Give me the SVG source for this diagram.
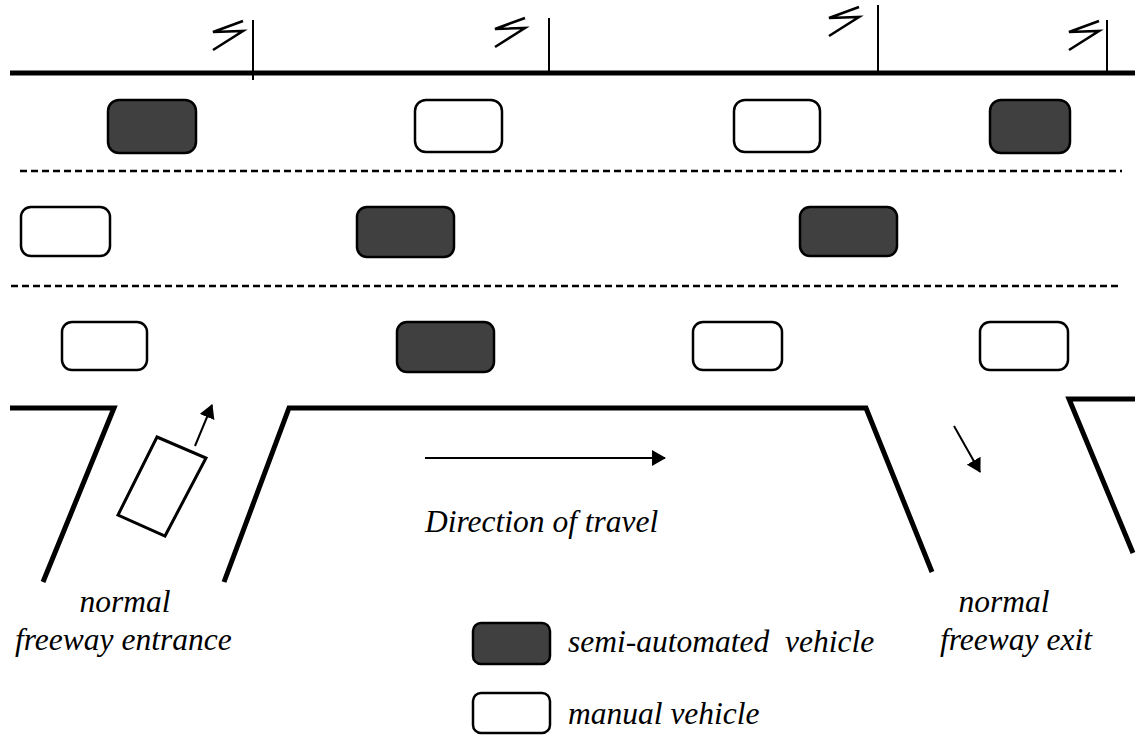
<svg xmlns="http://www.w3.org/2000/svg" width="1138" height="736" viewBox="0 0 1138 736">
<defs>
<style>
.road{fill:none;stroke:#000;stroke-width:5;stroke-linejoin:miter;stroke-linecap:butt}
.dash{fill:none;stroke:#000;stroke-width:2.5;stroke-dasharray:7 4}
.pole{stroke:#000;stroke-width:2}
.bolt{fill:none;stroke:#000;stroke-width:2.6;stroke-linejoin:miter}
.semi{fill:#404040;stroke:#000;stroke-width:2.5}
.manual{fill:#fff;stroke:#000;stroke-width:2.5}
.arrow{stroke:#000;stroke-width:2;fill:none}
text{font-family:"Liberation Serif","Times New Roman",serif;font-style:italic;font-size:31.5px;fill:#000}
</style>
<marker id="ah" viewBox="0 0 14 16" refX="13" refY="8" markerWidth="14" markerHeight="16" markerUnits="userSpaceOnUse" orient="auto">
<path d="M0,0 L14,8 L0,16 Z" fill="#000"/>
</marker>
<symbol id="bolt" overflow="visible">
<polyline class="bolt" points="30,0 0,11 30,10 0,29"/>
</symbol>
</defs>

<g id="road">
<line class="road" x1="10" y1="73" x2="1135" y2="73"/>
<line class="dash" x1="20" y1="171" x2="1122" y2="171"/>
<line class="dash" x1="11" y1="286" x2="1122" y2="286"/>
<polyline class="road" points="10,408 114,408 43,582"/>
<polyline class="road" points="224,582 289,408 866,408 932,572"/>
<polyline class="road" points="1135,399 1069,399 1133,553"/>
</g>

<g id="signals">
<line class="pole" x1="253" y1="20" x2="253" y2="80"/>
<use href="#bolt" x="213" y="21"/>
<line class="pole" x1="549" y1="18" x2="549" y2="73"/>
<use href="#bolt" x="495" y="18"/>
<line class="pole" x1="878" y1="5" x2="878" y2="73"/>
<use href="#bolt" x="829" y="7"/>
<line class="pole" x1="1107" y1="20" x2="1107" y2="73"/>
<use href="#bolt" x="1069" y="21"/>
</g>

<g id="vehicles">
<rect class="semi" x="108" y="100" width="88" height="53" rx="11"/>
<rect class="manual" x="415" y="100" width="87" height="52" rx="11"/>
<rect class="manual" x="734" y="100" width="86" height="52" rx="11"/>
<rect class="semi" x="990" y="100" width="80" height="53" rx="11"/>

<rect class="manual" x="21" y="207" width="89" height="49" rx="10"/>
<rect class="semi" x="357" y="207" width="97" height="50" rx="10"/>
<rect class="semi" x="800" y="207" width="97" height="49" rx="10"/>

<rect class="manual" x="62" y="322" width="85" height="48" rx="10"/>
<rect class="semi" x="397" y="322" width="97" height="50" rx="10"/>
<rect class="manual" x="693" y="322" width="89" height="48" rx="10"/>
<rect class="manual" x="980" y="322" width="88" height="48" rx="10"/>

<polygon id="entering-car" points="157,437 206,458 165,536 118,515" fill="#fff" stroke="#000" stroke-width="3"/>
</g>

<g id="connectors">
<line class="arrow" x1="195" y1="446" x2="212" y2="405" marker-end="url(#ah)"/>
<line class="arrow" x1="425" y1="458" x2="665" y2="458" marker-end="url(#ah)"/>
<line class="arrow" x1="954" y1="426" x2="980" y2="472" marker-end="url(#ah)"/>
</g>

<g id="labels">
<text x="425" y="532">Direction of travel</text>
<text x="125" y="612" text-anchor="middle">normal</text>
<text x="15" y="650">freeway entrance</text>
<text x="1004" y="612" text-anchor="middle">normal</text>
<text x="940" y="650">freeway exit</text>
</g>

<g id="legend">
<rect class="semi" x="473" y="623" width="77" height="41" rx="8"/>
<text x="568" y="652" xml:space="preserve">semi-automated  vehicle</text>
<rect class="manual" x="473" y="693" width="77" height="40" rx="8"/>
<text x="568" y="724">manual vehicle</text>
</g>
</svg>
